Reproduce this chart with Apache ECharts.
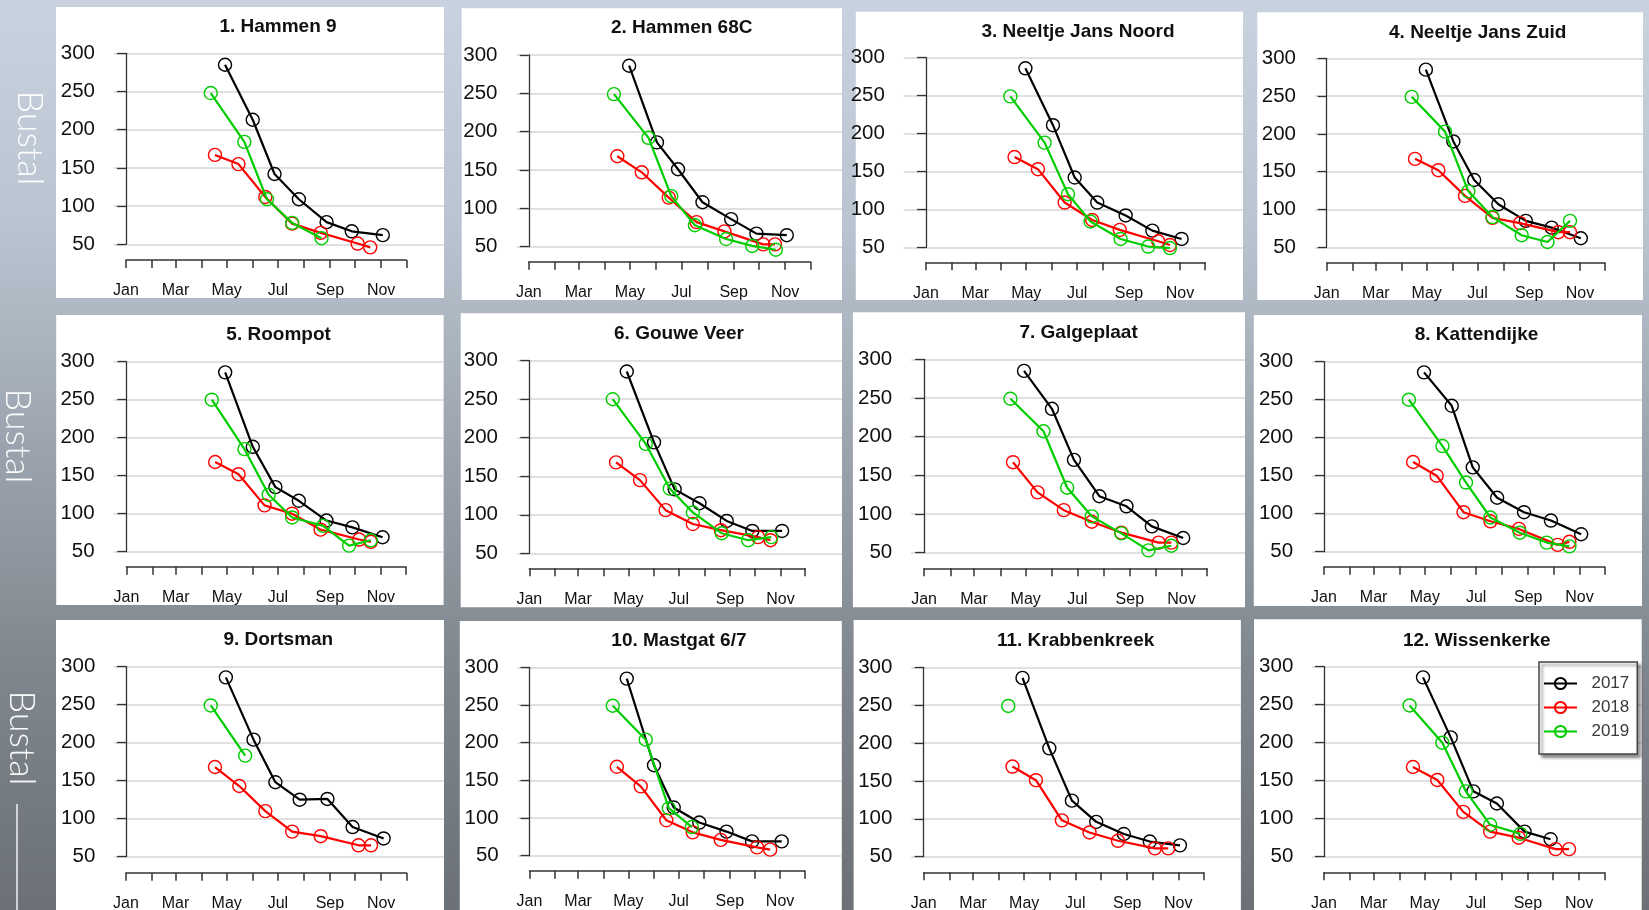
<!DOCTYPE html>
<html><head><meta charset="utf-8">
<script src="https://cdn.jsdelivr.net/npm/echarts@6/dist/echarts.min.js"></script>
<style>
html,body{margin:0;padding:0;width:1649px;height:910px;overflow:hidden;
background:linear-gradient(to bottom,#c9d3df 0%,#bac4d0 25%,#9aa3ad 50%,#7e858c 75%,#6b7176 100%);}
#chart{width:1649px;height:910px;}
</style></head><body><div id="chart"></div>
<script>
// ---------- data ----------
const months = ['Jan','Mar','May','Jul','Sep','Nov'];
const monthLabelDays = [0,59,120,181,243,304];
const monthTickDays = [0,31,59,90,120,151,181,212,243,273,304,334];
const yMin = 50, yMax = 300, yStep = 50;
const years = ['2017','2018','2019'];
const siteNames = ['1. Hammen 9','2. Hammen 68C','3. Neeltje Jans Noord','4. Neeltje Jans Zuid',
  '5. Roompot','6. Gouwe Veer','7. Galgeplaat','8. Kattendijke',
  '9. Dortsman','10. Mastgat 6/7','11. Krabbenkreek','12. Wissenkerke'];

// [day of year, value]
const s01_2017 = [[118,285],[151,213],[177,142],[206,109],[239,79],[269,67],[306,62]];
const s01_2018 = [[106,167],[134,155],[166,112],[198,77],[232,65],[276,51],[291,46]];
const s01_2019 = [[101,248],[141,184],[168,109],[198,78],[233,58]];

const s02_2017 = [[119,286],[152,186],[177,151],[206,108],[240,86],[270,67],[306,65]];
const s02_2018 = [[105,168],[134,147],[166,114],[199,82],[232,70],[278,53],[292,53]];
const s02_2019 = [[101,249],[142,192],[169,116],[197,78],[234,60],[265,51],[293,46]];

const s03_2017 = [[119,286],[152,211],[178,142],[205,109],[239,92],[271,72],[306,61]];
const s03_2018 = [[106,169],[134,153],[166,109],[199,86],[232,73],[278,58],[292,53]];
const s03_2019 = [[101,249],[142,188],[170,120],[197,84],[233,61],[266,51],[292,49]];

const s04_2017 = [[119,285],[152,190],[177,139],[206,107],[239,85],[270,76],[305,62]];
const s04_2018 = [[106,167],[134,152],[166,118],[199,89],[232,82],[278,70],[292,70]];
const s04_2019 = [[102,249],[142,203],[170,124],[199,90],[234,66],[265,57],[292,85]];

const s05_2017 = [[118,286],[151,188],[178,135],[206,117],[239,91],[270,82],[306,69]];
const s05_2018 = [[106,168],[134,152],[165,111],[198,100],[232,79],[278,66],[292,63]];
const s05_2019 = [[102,250],[141,185],[170,125],[198,95],[235,84],[266,58],[292,65]];

const s06_2017 = [[118,286],[151,194],[176,133],[206,115],[239,92],[270,79],[306,79]];
const s06_2018 = [[105,168],[134,145],[165,106],[198,88],[232,80],[277,71],[292,67]];
const s06_2019 = [[101,250],[141,192],[170,134],[198,103],[233,76],[265,67],[293,71]];

const s07_2017 = [[118,285],[151,236],[177,170],[207,123],[239,110],[269,84],[306,69]];
const s07_2018 = [[105,167],[134,128],[165,105],[198,90],[233,76],[277,63],[292,63]];
const s07_2019 = [[102,249],[141,207],[169,134],[198,97],[233,75],[265,53],[292,59]];

const s08_2017 = [[119,286],[152,242],[177,161],[206,121],[238,102],[270,91],[306,73]];
const s08_2018 = [[106,168],[134,150],[166,102],[198,90],[232,80],[278,59],[292,63]];
const s08_2019 = [[101,250],[141,189],[169,141],[198,95],[233,75],[265,62],[292,57]];

const s09_2017 = [[119,286],[152,204],[178,148],[207,125],[240,126],[270,89],[307,74]];
const s09_2018 = [[106,168],[135,143],[166,110],[198,83],[232,77],[277,65],[292,65]];
const s09_2019 = [[101,249],[142,183]];

const s10_2017 = [[118,285],[151,170],[175,114],[206,94],[239,82],[270,69],[306,69]];
const s10_2018 = [[106,168],[135,142],[166,97],[198,81],[232,71],[276,61],[292,58]];
const s10_2019 = [[101,249],[141,204],[169,113],[197,88]];

const s11_2017 = [[118,286],[150,193],[177,124],[206,96],[239,80],[270,70],[306,65]];
const s11_2018 = [[106,169],[134,151],[165,98],[198,82],[232,71],[276,61],[292,61]];
const s11_2019 = [[101,249]];

const s12_2017 = [[118,286],[151,207],[178,136],[206,120],[239,83],[270,73]];
const s12_2018 = [[106,168],[135,151],[166,109],[198,83],[232,75],[276,60],[292,60]];
const s12_2019 = [[102,249],[141,200],[169,136],[198,92],[234,80]];

const siteData = [
  [s01_2017,s01_2018,s01_2019],[s02_2017,s02_2018,s02_2019],[s03_2017,s03_2018,s03_2019],[s04_2017,s04_2018,s04_2019],
  [s05_2017,s05_2018,s05_2019],[s06_2017,s06_2018,s06_2019],[s07_2017,s07_2018,s07_2019],[s08_2017,s08_2018,s08_2019],
  [s09_2017,s09_2018,s09_2019],[s10_2017,s10_2018,s10_2019],[s11_2017,s11_2018,s11_2019],[s12_2017,s12_2018,s12_2019]
];

// ---------- layout / style ----------
const yearColors = ['#000000','#ff0000','#00cd00'];
const FONT = '"Liberation Sans", Arial, Helvetica, sans-serif';
const panelLayout = [
 {box:[56,7,444,298], yAxisX:114, y300:53.3, y50:244.3, xAxisY:260, janX:126, decX:406.3, title:[278,27]},
 {box:[461.7,8.3,842,300], yAxisX:516.5, y300:55, y50:246.7, xAxisY:261.7, janX:528.8, decX:810.4, title:[681.7,28]},
 {box:[855.8,11.7,1243,300], yAxisX:903.9, y300:57.7, y50:247.3, xAxisY:262.3, janX:926, decX:1205, title:[1078,31.7]},
 {box:[1257.3,12.3,1643,300], yAxisX:1315, y300:58.3, y50:247.3, xAxisY:262.7, janX:1326.7, decX:1605, title:[1477.7,32.7]},
 {box:[56.2,315,443.6,605], yAxisX:113.6, y300:361.7, y50:551.7, xAxisY:566.7, janX:126.4, decX:406, title:[278.6,335]},
 {box:[460.7,313.3,842,607.3], yAxisX:517, y300:360.7, y50:553.3, xAxisY:568.3, janX:529.3, decX:805.2, title:[679,333.3]},
 {box:[852.9,312.3,1245,607.3], yAxisX:911.2, y300:359.3, y50:552.7, xAxisY:568.3, janX:924.1, decX:1206.9, title:[1078.6,332.3]},
 {box:[1253.8,315,1642,606], yAxisX:1312.1, y300:361.7, y50:551.7, xAxisY:566.7, janX:1324, decX:1604.7, title:[1476.5,335]},
 {box:[56,620,444,912], yAxisX:114.3, y300:666.7, y50:856.7, xAxisY:872.7, janX:126, decX:406.3, title:[278.3,640]},
 {box:[459.8,621,841.8,912], yAxisX:517.7, y300:667.3, y50:855.7, xAxisY:870.7, janX:529.5, decX:804.8, title:[678.9,641]},
 {box:[853.6,620,1240.9,912], yAxisX:911.4, y300:667.3, y50:856.7, xAxisY:872.3, janX:923.7, decX:1203.4, title:[1075.6,640.7]},
 {box:[1254,619.3,1641.7,912], yAxisX:1312.3, y300:666.7, y50:856.7, xAxisY:872.3, janX:1324, decX:1604.3, title:[1476.8,640.7]}
];

const grids=[], xAxes=[], yAxes=[], series=[], graphics=[];
panelLayout.forEach((L,i)=>{
  const [bl,bt,br,bb]=L.box;
  graphics.push({type:'rect', z:-100, silent:true, shape:{x:bl,y:bt,width:br-bl,height:bb-bt}, style:{fill:'#ffffff'}});
  graphics.push({type:'text', z:10, silent:true, style:{x:L.title[0], y:L.title[1], text:siteNames[i],
    font:'bold 19px '+FONT, fill:'#111', textAlign:'center', textVerticalAlign:'middle'}});
  const pxPerDay=(L.decX-L.janX)/334;
  const gA=grids.length;
  grids.push({left:L.yAxisX, top:L.y300, width:br-L.yAxisX, height:L.y50-L.y300, containLabel:false, outerBoundsMode:'none'});
  xAxes.push({gridIndex:gA, type:'value', show:false, min:(L.yAxisX-L.janX)/pxPerDay, max:(br-L.janX)/pxPerDay});
  yAxes.push({gridIndex:gA, type:'value', min:yMin, max:yMax, interval:yStep,
    axisLine:{show:true, lineStyle:{color:'#333', width:1.3}},
    axisTick:{show:true, length:9, lineStyle:{color:'#333', width:1.3}},
    axisLabel:{fontSize:20.5, color:'#111', margin:19, fontFamily:FONT, showMinLabel:true, showMaxLabel:true},
    splitLine:{show:true, lineStyle:{color:'#d6d6d6', width:1.6}}});
  grids.push({left:L.janX, top:L.xAxisY-1, width:L.decX-L.janX, height:1, containLabel:false, outerBoundsMode:'none'});
  xAxes.push({gridIndex:gA+1, type:'value', min:0, max:334, position:'bottom',
    axisLine:{show:true, onZero:false, lineStyle:{color:'#333', width:1.5}},
    axisTick:{show:true, length:8, customValues:monthTickDays, lineStyle:{color:'#333', width:1.5}},
    axisLabel:{show:true, customValues:monthLabelDays, formatter:v=>months[monthLabelDays.indexOf(v)],
      fontSize:16, color:'#111', margin:23, fontFamily:FONT, showMinLabel:true, showMaxLabel:true},
    splitLine:{show:false}});
  yAxes.push({gridIndex:gA+1, type:'value', show:false, min:0, max:1});
  siteData[i].forEach((d,k)=>{
    series.push({type:'line', name:years[k], xAxisIndex:gA, yAxisIndex:gA, data:d,
      symbol:'circle', symbolSize:13, showSymbol:true, clip:false, animation:false, z:3+k,
      lineStyle:{color:yearColors[k], width:2.2},
      itemStyle:{color:'rgba(255,255,255,0)', borderColor:yearColors[k], borderWidth:1.4},
      emphasis:{disabled:true}});
  });
});

// side labels
[[30,138],[18,436],[22,738]].forEach(p=>{
  graphics.push({type:'text', silent:true, x:p[0], y:p[1], rotation:-Math.PI/2,
    style:{x:0, y:0, text:'Bustal', font:'300 36px Lato, "Open Sans", sans-serif', fill:'rgba(255,255,255,0.95)',
      textAlign:'center', textVerticalAlign:'middle'}});
});
graphics.push({type:'line', silent:true, shape:{x1:17, y1:804, x2:17, y2:912}, style:{stroke:'rgba(255,255,255,0.9)', lineWidth:1.5}});

const chart = echarts.init(document.getElementById('chart'), null, {renderer:'canvas'});
chart.setOption({
  animation:false,
  backgroundColor:'transparent',
  grid:grids, xAxis:xAxes, yAxis:yAxes, series:series, graphic:graphics,
  legend:{data:years, orient:'vertical', left:1539, top:662, padding:[13,8,14,4],
    itemWidth:33, itemHeight:14, itemGap:7, backgroundColor:'#ffffff',
    borderColor:'#444', borderWidth:1.5, borderRadius:0,
    shadowColor:'rgba(0,0,0,0.45)', shadowBlur:3, shadowOffsetX:3, shadowOffsetY:3,
    textStyle:{fontSize:17, color:'#3a3a3a', lineHeight:14, fontFamily:FONT},
    formatter:n=>'  '+n, selectedMode:false}
});
</script></body></html>
